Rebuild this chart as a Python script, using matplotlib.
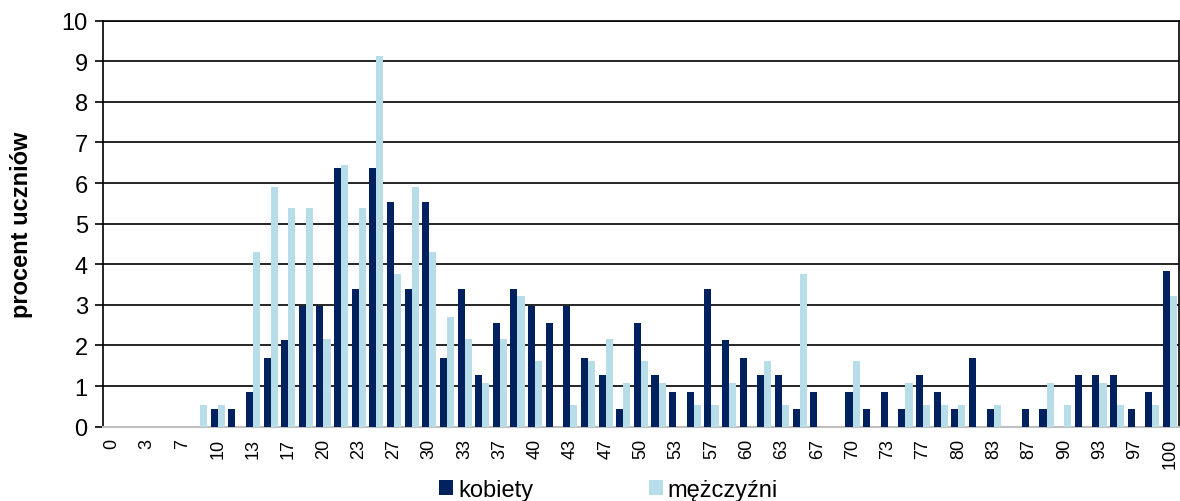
import numpy as np
import matplotlib
matplotlib.use("Agg")
import matplotlib.pyplot as plt

plt.rcParams['font.family'] = ['Liberation Sans', 'DejaVu Sans']

# wynik w punktach (0-60), co drugi podpisany w procentach
points = list(range(61))
tick_labels = ["0", "3", "7", "10", "13", "17", "20", "23", "27", "30", "33",
               "37", "40", "43", "47", "50", "53", "57", "60", "63", "67", "70",
               "73", "77", "80", "83", "87", "90", "93", "97", "100"]

kobiety = [0, 0, 0, 0, 0, 0, 0.43, 0.43, 0.85, 1.70,
           2.13, 2.98, 2.98, 6.38, 3.40, 6.38, 5.53, 3.40, 5.53, 1.70,
           3.40, 1.28, 2.55, 3.40, 2.98, 2.55, 2.98, 1.70, 1.28, 0.43,
           2.55, 1.28, 0.85, 0.85, 3.40, 2.13, 1.70, 1.28, 1.28, 0.43,
           0.85, 0, 0.85, 0.43, 0.85, 0.43, 1.28, 0.85, 0.43, 1.70,
           0.43, 0, 0.43, 0.43, 0, 1.28, 1.28, 1.28, 0.43, 0.85,
           3.83]

mezczyzni = [0, 0, 0, 0, 0, 0.54, 0.54, 0, 4.30, 5.91,
             5.38, 5.38, 2.15, 6.45, 5.38, 9.14, 3.76, 5.91, 4.30, 2.69,
             2.15, 1.08, 2.15, 3.23, 1.61, 0, 0.54, 1.61, 2.15, 1.08,
             1.61, 1.08, 0, 0.54, 0.54, 1.08, 0, 1.61, 0.54, 3.76,
             0, 0, 1.61, 0, 0, 1.08, 0.54, 0.54, 0.54, 0,
             0.54, 0, 0, 1.08, 0.54, 0, 1.08, 0.54, 0, 0.54,
             3.23]

dark = "#00215E"
light = "#B7DEE8"

fig = plt.figure(figsize=(11.8, 5.02), dpi=100)
ax = fig.add_axes([0.0873, 0.148, 0.9117, 0.809])

x = np.array(points)
w = 0.4
ax.bar(x - w / 2, kobiety, width=w, color=dark, label="kobiety", zorder=3)
ax.bar(x + w / 2, mezczyzni, width=w, color=light, label="mężczyźni", zorder=3)

ax.set_xlim(-0.5, 60.5)
ax.set_ylim(0, 10)
ax.set_yticks(range(0, 11))
ax.yaxis.grid(True, color="black", linewidth=1.2, zorder=0)
ax.set_axisbelow(True)

ax.set_xticks(x[::2])
ax.set_xticklabels(tick_labels, rotation=90, fontsize=13)
ax.tick_params(axis="x", length=0, pad=8)
ax.tick_params(axis="y", labelsize=17, length=6, width=1.2, direction="out", pad=5)

for side in ["left", "right", "top"]:
    ax.spines[side].set_color("black")
    ax.spines[side].set_linewidth(1.2)
ax.spines["bottom"].set_color("#BFBFBF")
ax.spines["bottom"].set_linewidth(1.5)

ax.set_ylabel("procent uczniów", fontsize=17, fontweight="bold")
ax.yaxis.set_label_coords(-0.065, 0.5)

ax.legend(loc="upper center", bbox_to_anchor=(0.47, -0.128), ncol=2,
          frameon=False, fontsize=17, handlelength=0.6, handleheight=0.6,
          handletextpad=0.2, columnspacing=4.9, borderaxespad=0, borderpad=0)

fig.savefig("out.png", dpi=100)
